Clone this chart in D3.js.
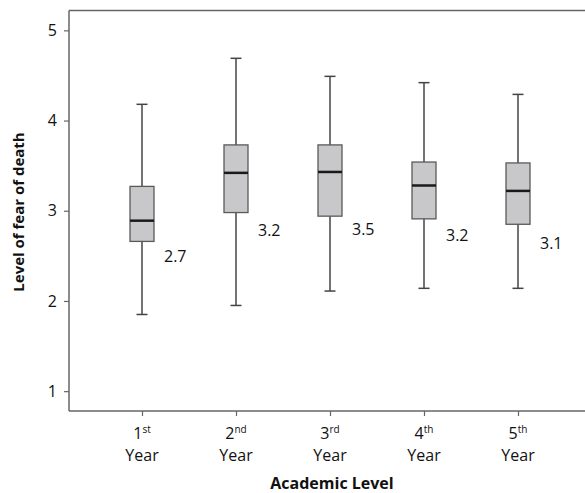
<!DOCTYPE html>
<meta charset="utf-8">
<html>
<head>
<style>
  body { margin: 0; background: #fff; }
  text { font-family: "Open Sans", "Noto Sans", sans-serif; fill: #111; }
</style>
</head>
<body>
<div id="chart"></div>
<script src="https://d3js.org/d3.v7.min.js"></script>
<script>

// academic level categories and box-plot stats
var years = ["1", "2", "3", "4", "5"];
var suffixes = ["st", "nd", "rd", "th", "th"];
var whiskerLow = [1.85, 1.95, 2.11, 2.14, 2.14];
var q1 = [2.66, 2.98, 2.94, 2.91, 2.85];
var median = [2.89, 3.42, 3.43, 3.28, 3.22];
var q3 = [3.27, 3.73, 3.73, 3.54, 3.53];
var whiskerHigh = [4.18, 4.69, 4.49, 4.42, 4.29];
var meanLabels = ["2.7", "3.2", "3.5", "3.2", "3.1"];
var labelOffset = [15, 18, 13, 17, 19];
var yTicks = [1, 2, 3, 4, 5];

var data = years.map(function(d, i) {
  return {year: d, suf: suffixes[i], lo: whiskerLow[i], q1: q1[i], med: median[i],
          q3: q3[i], hi: whiskerHigh[i], label: meanLabels[i], off: labelOffset[i]};
});

var width = 585, height = 493;
var margin = {top: 10.5, right: 0, bottom: 82, left: 69};

var svg = d3.select("#chart")
  .append("svg")
    .attr("width", width)
    .attr("height", height);

var x = d3.scalePoint()
  .domain(years)
  .range([142, 518]);

var y = d3.scaleLinear()
  .domain([0.78, 5.22])
  .range([height - margin.bottom, margin.top]);

var axisColor = "#666";

// frame: left, top, bottom lines
svg.append("line")
  .attr("x1", margin.left).attr("x2", margin.left)
  .attr("y1", y(5.22)).attr("y2", y(0.78))
  .attr("stroke", axisColor).attr("stroke-width", 1.5);
svg.append("line")
  .attr("x1", margin.left).attr("x2", width)
  .attr("y1", y(5.22)).attr("y2", y(5.22))
  .attr("stroke", axisColor).attr("stroke-width", 1.5);

var yAxis = svg.append("g")
  .attr("transform", "translate(" + margin.left + ",0)")
  .call(d3.axisLeft(y).tickValues(yTicks).tickSize(5).tickPadding(7).tickFormat(d3.format("d")));
yAxis.select(".domain").remove();
yAxis.selectAll("line").attr("stroke", axisColor).attr("stroke-width", 1.2);
yAxis.selectAll("text").style("font-size", "16px").style("font-family", "Open Sans").attr("fill", "#111");

var xAxis = svg.append("g")
  .attr("transform", "translate(0," + y(0.78) + ")")
  .call(d3.axisBottom(x).tickSize(5).tickFormat(""));
xAxis.select(".domain").attr("d", "M" + margin.left + ",0H" + width)
  .attr("stroke", axisColor).attr("stroke-width", 1.5);
xAxis.selectAll("line").attr("stroke", axisColor).attr("stroke-width", 1.2);

// x tick labels: "1st" over "Year"
var tl = svg.append("g").selectAll("g")
  .data(data)
  .enter().append("g")
    .attr("transform", function(d) { return "translate(" + x(d.year) + ",0)"; });
var t1 = tl.append("text")
  .attr("y", 439)
  .attr("text-anchor", "middle")
  .style("font-size", "16px");
t1.append("tspan").text(function(d) { return d.year; });
t1.append("tspan").text(function(d) { return d.suf; })
  .attr("dy", -6).style("font-size", "10px");
tl.append("text")
  .attr("y", 461)
  .attr("text-anchor", "middle")
  .style("font-size", "16px")
  .text("Year");

// boxes
var boxW = 24, capW = 11;
var g = svg.append("g").selectAll("g")
  .data(data)
  .enter().append("g")
    .attr("transform", function(d) { return "translate(" + x(d.year) + ",0)"; });

g.append("line")
  .attr("x1", 0).attr("x2", 0)
  .attr("y1", function(d) { return y(d.hi); })
  .attr("y2", function(d) { return y(d.lo); })
  .attr("stroke", "#444").attr("stroke-width", 1.5);
g.append("line")
  .attr("x1", -capW / 2).attr("x2", capW / 2)
  .attr("y1", function(d) { return y(d.hi); })
  .attr("y2", function(d) { return y(d.hi); })
  .attr("stroke", "#444").attr("stroke-width", 1.5);
g.append("line")
  .attr("x1", -capW / 2).attr("x2", capW / 2)
  .attr("y1", function(d) { return y(d.lo); })
  .attr("y2", function(d) { return y(d.lo); })
  .attr("stroke", "#444").attr("stroke-width", 1.5);
g.append("rect")
  .attr("x", -boxW / 2)
  .attr("width", boxW)
  .attr("y", function(d) { return y(d.q3); })
  .attr("height", function(d) { return y(d.q1) - y(d.q3); })
  .attr("fill", "#c8c8ca")
  .attr("stroke", "#5a5a5a").attr("stroke-width", 1.3);
g.append("line")
  .attr("x1", -boxW / 2).attr("x2", boxW / 2)
  .attr("y1", function(d) { return y(d.med); })
  .attr("y2", function(d) { return y(d.med); })
  .attr("stroke", "#1a1a1a").attr("stroke-width", 2.5);

// mean labels
g.append("text")
  .attr("x", 22)
  .attr("y", function(d) { return y(d.q1) + d.off; })
  .attr("dy", "0.35em")
  .style("font-size", "16px")
  .text(function(d) { return d.label; });

// axis titles
svg.append("text")
  .attr("x", 332)
  .attr("y", 489)
  .attr("text-anchor", "middle")
  .style("font-size", "16px")
  .style("font-weight", "bold")
  .text("Academic Level");

svg.append("text")
  .attr("transform", "translate(24,212) rotate(-90)")
  .attr("text-anchor", "middle")
  .style("font-size", "15px")
  .style("font-weight", "bold")
  .text("Level of fear of death");

</script>
</body>
</html>
